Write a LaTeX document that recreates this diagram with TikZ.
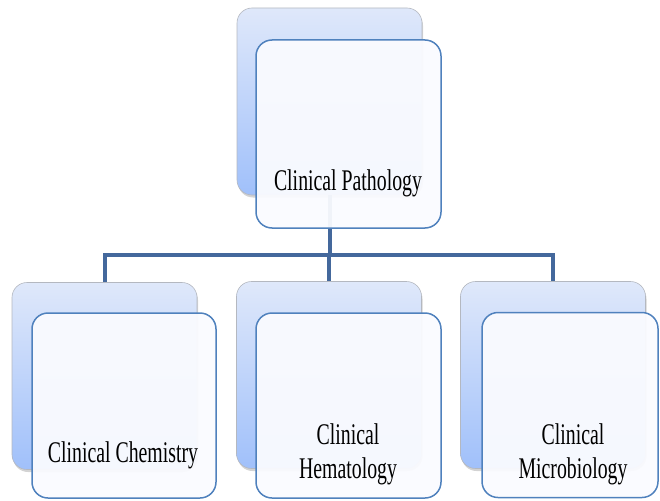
\documentclass[tikz,border=0pt]{standalone}
\usepackage{fontspec}
\newfontfamily\lblfont[FakeStretch=0.66]{Liberation Serif}
\usetikzlibrary{shadows,calc}
\definecolor{backtop}{HTML}{DFE8FA}
\definecolor{backbot}{HTML}{A0C0FA}
\definecolor{backline}{HTML}{B4B8C0}
\definecolor{frontfill}{HTML}{FAFBFF}
\definecolor{frontline}{HTML}{4F81BD}
\definecolor{connc}{HTML}{44689C}
\tikzset{
  backbox/.style={rectangle, rounded corners=15pt, minimum width=185pt, minimum height=187pt,
    top color=backtop, bottom color=backbot, draw=backline, line width=0.6pt, inner sep=0pt,
    drop shadow={opacity=0.35, shadow xshift=1pt, shadow yshift=-2.5pt}},
  frontbox/.style={rectangle, rounded corners=16pt, minimum height=185pt, inner sep=0pt,
    fill=frontfill, fill opacity=0.95, draw=frontline, line width=1.5pt},
  lbl/.style={font=\lblfont\fontsize{30}{34}\selectfont, align=center, inner sep=0pt, anchor=base, text=black},
  conn/.style={draw=connc, line width=4pt}
}
\begin{document}
\begin{tikzpicture}[x=1pt,y=-1pt]
\useasboundingbox (0,0) rectangle (660,500);
% back boxes
\node[backbox] (tb) at (329.5,101.5) {};
\node[backbox] (b1) at (104.5,376) {};
\node[backbox] (b2) at (329,375) {};
\node[backbox] (b3) at (553,375) {};
% connectors
\coordinate (bar) at (0,255);
\draw[conn] (tb.south) -- (tb.south |- bar);
\draw[conn] (b1.north) |- (b3.north |- bar) -- (b3.north);
\draw[conn] (b2.north) -- (b2.north |- bar);
% front boxes
\node[frontbox, minimum width=185pt, minimum height=188pt] (tf) at (348.5,134) {};
\node[frontbox, minimum width=184pt] (f1) at (124,405.5) {};
\node[frontbox, minimum width=185pt] (f2) at (348.5,405.5) {};
\node[frontbox, minimum width=176pt] (f3) at (570,405) {};
% labels
\node[lbl] (tt) at (348,190) {Clinical Pathology};
\node[lbl] (t1) at (123,462) {Clinical Chemistry};
\node[lbl] (t2a) at (348,444) {Clinical};
\node[lbl] (t2b) at (348,478) {Hematology};
\node[lbl] (t3a) at (573,444) {Clinical};
\node[lbl] (t3b) at (573,478) {Microbiology};
\end{tikzpicture}
\end{document}
